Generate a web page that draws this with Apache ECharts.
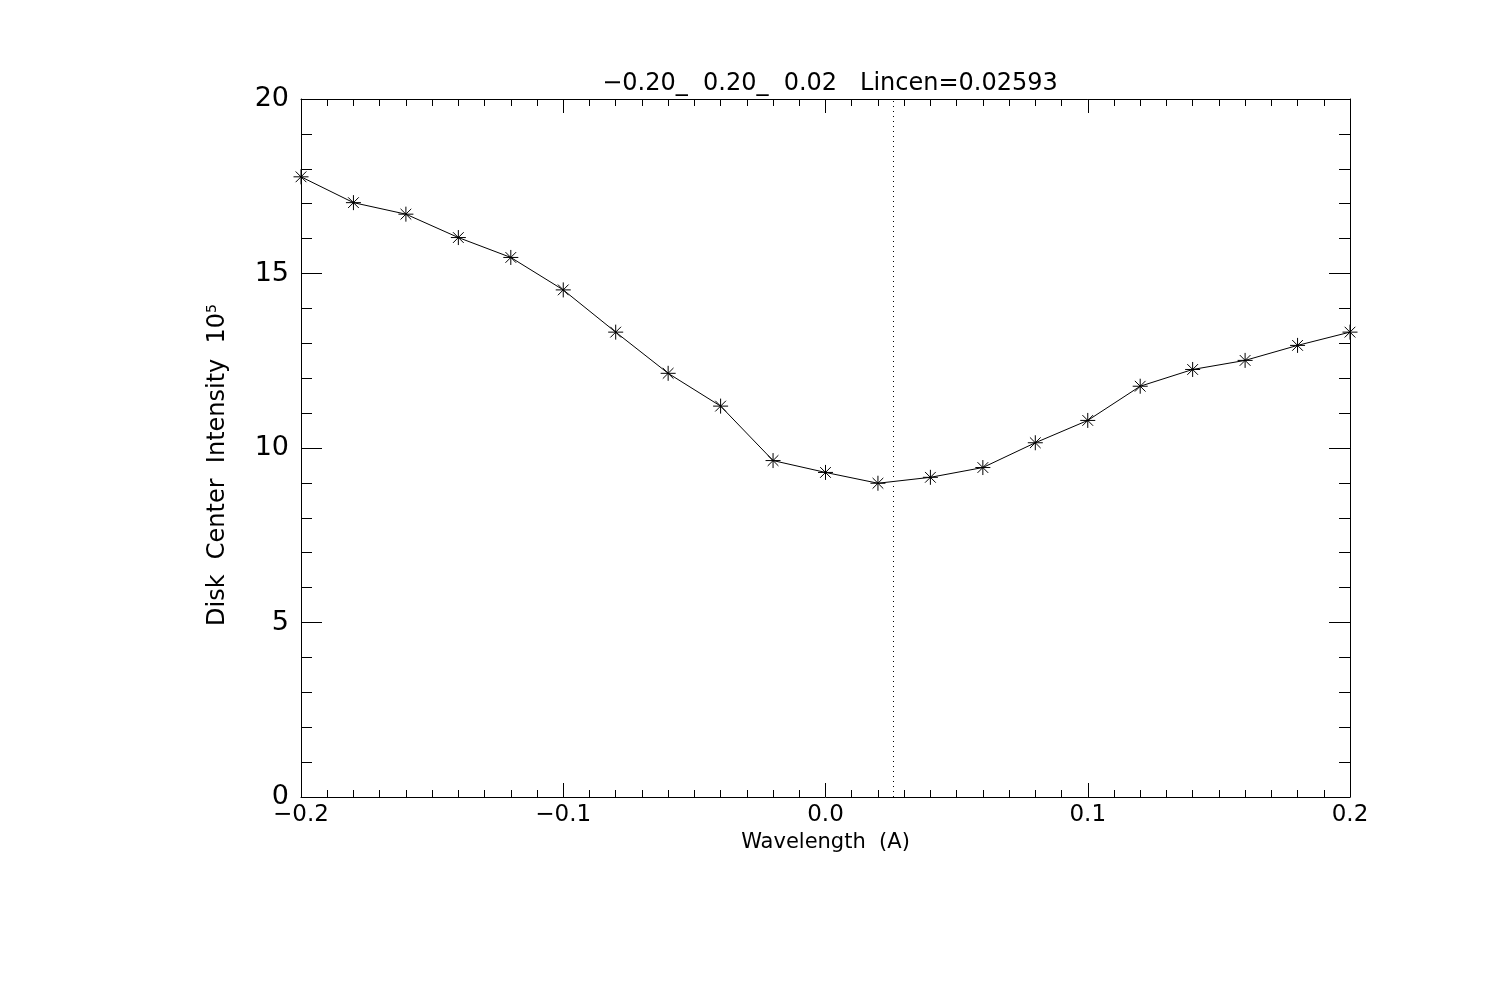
<!DOCTYPE html>
<html>
<head>
<meta charset="utf-8">
<script src="https://cdn.jsdelivr.net/npm/echarts@6/dist/echarts.min.js"></script>
<style>html,body{margin:0;padding:0;background:#fff}#c{width:1500px;height:1000px}</style>
</head>
<body>
<div id="c"></div>
<script>
const wavelengths = [-0.20,-0.18,-0.16,-0.14,-0.12,-0.10,-0.08,-0.06,-0.04,-0.02,0.00,0.02,0.04,0.06,0.08,0.10,0.12,0.14,0.16,0.18,0.20];
const intensity = [17.77,17.03,16.70,16.03,15.46,14.53,13.32,12.14,11.20,9.64,9.30,8.99,9.16,9.44,10.15,10.79,11.77,12.25,12.51,12.94,13.32];
const lineCenter = 0.02593;
const titleText = '\u22120.20_  0.20_  0.02   Lincen=0.02593';
const xName = 'Wavelength  (A)';
const yName = 'Disk  Center  Intensity  10';

const FONT = 'DejaVu Sans';
const fmtX = v => (v < 0 ? '\u2212' : '') + Math.abs(v).toFixed(1);

const chart = echarts.init(document.getElementById('c'), null, {renderer: 'canvas'});
const asterisk = 'path://M0,7L14,7M7,0L7,14M2,2L12,12M12,2L2,12';

const commonX = {
  type: 'value', min: -0.2, max: 0.2, interval: 0.1,
  axisLine: {show: true, onZero: false, lineStyle: {color: '#000', width: 1}},
  axisTick: {show: true, inside: true, length: 14, lineStyle: {color: '#000'}},
  minorTick: {show: true, splitNumber: 10, length: 7, lineStyle: {color: '#000'}},
  splitLine: {show: false}
};
const commonY = {
  type: 'value', min: 0, max: 20, interval: 5,
  axisLine: {show: true, onZero: false, lineStyle: {color: '#000', width: 1}},
  axisTick: {show: true, inside: true, length: 21, lineStyle: {color: '#000'}},
  minorTick: {show: true, splitNumber: 5, length: 11, lineStyle: {color: '#000'}},
  splitLine: {show: false}
};

chart.setOption({
  backgroundColor: '#fff',
  animation: false,
  title: {
    text: titleText, left: 825, top: 67, textAlign: 'center',
    textStyle: {fontFamily: FONT, fontSize: 24, fontWeight: 'normal', color: '#000'}
  },
  grid: {left: 301, right: 150, top: 99, bottom: 203, containLabel: false},
  xAxis: [
    Object.assign({}, commonX, {
      position: 'bottom',
      axisLabel: {show: true, margin: 7, formatter: fmtX, fontFamily: FONT, fontSize: 23, color: '#000'},
      name: xName, nameLocation: 'middle', nameGap: 24,
      nameTextStyle: {fontFamily: FONT, fontSize: 21, color: '#000'}
    }),
    Object.assign({}, commonX, {position: 'top', axisLabel: {show: false}})
  ],
  yAxis: [
    Object.assign({}, commonY, {
      position: 'left',
      axisLabel: {show: true, margin: 12, fontFamily: FONT, fontSize: 27, color: '#000'},
      name: '{a|' + yName + '}{s|5}', nameLocation: 'middle', nameGap: 70, nameRotate: 90,
      nameTextStyle: {
        color: '#000',
        padding: [0, 34, 0, 0],
        rich: {
          a: {fontFamily: FONT, fontSize: 24, color: '#000'},
          s: {fontFamily: FONT, fontSize: 14, color: '#000', verticalAlign: 'top', padding: [0, 0, 12, 0]}
        }
      }
    }),
    Object.assign({}, commonY, {position: 'right', axisLabel: {show: false}})
  ],
  series: [{
    type: 'line',
    xAxisIndex: 0, yAxisIndex: 0,
    data: wavelengths.map((w, i) => [w, intensity[i]]),
    symbol: asterisk,
    symbolSize: 15,
    showAllSymbol: true,
    lineStyle: {color: '#000', width: 1},
    itemStyle: {color: 'none', borderColor: '#000', borderWidth: 1},
    clip: true,
    markLine: {
      silent: true,
      symbol: ['none', 'none'],
      label: {show: false},
      lineStyle: {color: '#000', type: [1, 4], width: 1},
      data: [[{coord: [lineCenter, 0]}, {coord: [lineCenter, 20]}]]
    }
  }]
});
</script>
</body>
</html>
